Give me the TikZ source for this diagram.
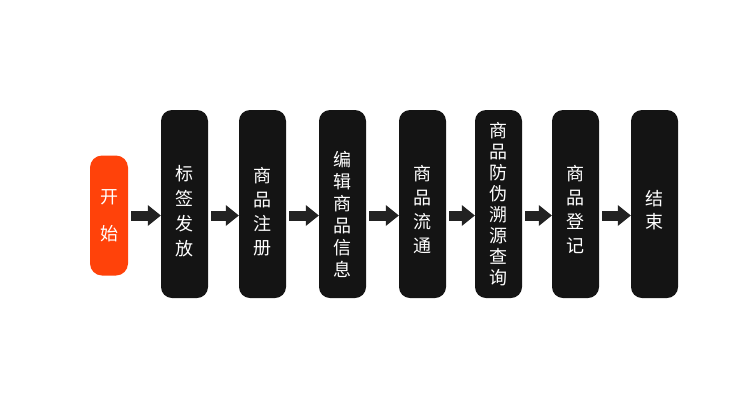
\documentclass[tikz,border=0pt]{standalone}
\usepackage{fontspec}
\newfontfamily\cjk{Noto Sans CJK SC}
\usetikzlibrary{arrows.meta}
\definecolor{startred}{HTML}{FF420A}
\definecolor{boxblack}{HTML}{141414}
\definecolor{arrowgray}{HTML}{222222}
\tikzstyle{process}=[rounded corners=11pt,fill=boxblack,text=white,minimum width=47pt,minimum height=188pt,inner sep=0pt,align=center]
\tikzstyle{terminal}=[process,fill=startred,minimum width=38pt,minimum height=120pt,rounded corners=12pt]
\tikzstyle{arrow}=[draw=arrowgray,line width=10pt,-{Triangle[length=13pt,width=21pt,line width=0pt]}]

\begin{document}
\begin{tikzpicture}[x=1pt,y=-1pt]
    \useasboundingbox (0,0) rectangle (750,400);
    \node[terminal,font=\cjk\fontsize{18}{37}\selectfont] (start) at (109,215.5) {开\\始};
    % \lift: height of the first line, pushes the text down a little
    \foreach \pos/\name/\gap/\lift/\txt in {184.5/b1/25/30/{标\\签\\发\\放}, 262.5/b2/24/30/{商\\品\\注\\册},
        342.5/b3/22/36/{编\\辑\\商\\品\\信\\息}, 422.5/b4/24/26/{商\\品\\流\\通},
        498.5/b5/21/0/{商\\品\\防\\伪\\溯\\源\\查\\询}, 575.5/b6/24/26/{商\\品\\登\\记}, 654.5/b7/23/27/{结\\束}}
        \node[process,font=\cjk\fontsize{18}{\gap}\selectfont] (\name) at (\pos,204) {\rule{0pt}{\lift pt}\txt};
    \foreach \source/\dest in {start/b1, b1/b2, b2/b3, b3/b4, b4/b5, b5/b6, b6/b7}
        \path[arrow] ([xshift=3pt]\source.east |- start) -- (\dest.west |- start);
\end{tikzpicture}
\end{document}
